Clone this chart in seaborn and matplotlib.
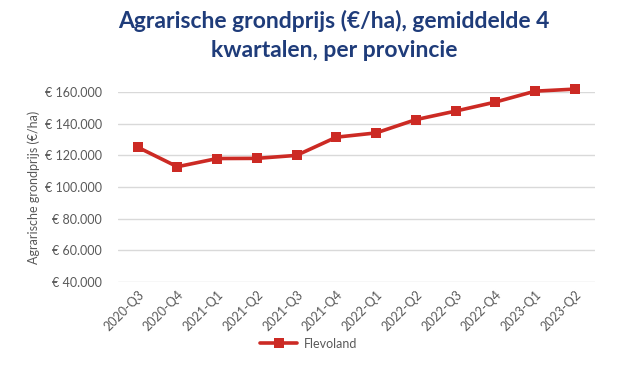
import matplotlib
matplotlib.use("Agg")
import matplotlib.pyplot as plt
import seaborn as sns
import pandas as pd
from matplotlib.ticker import FuncFormatter

quarters = ["2020-Q3", "2020-Q4", "2021-Q1", "2021-Q2", "2021-Q3", "2021-Q4",
            "2022-Q1", "2022-Q2", "2022-Q3", "2022-Q4", "2023-Q1", "2023-Q2"]
flevoland = [125200, 112800, 118000, 118100, 120000, 131500,
             134200, 142600, 148000, 153700, 160600, 161900]
series_name = "Flevoland"
title = "Agrarische grondprijs (€/ha), gemiddelde 4\nkwartalen, per provincie"
ylabel = "Agrarische grondprijs (€/ha)"

sns.set_theme(style="white")
plt.rcParams['font.family'] = ['Lato', 'DejaVu Sans']

df = pd.DataFrame({"kwartaal": quarters, "prijs": flevoland, "provincie": series_name})

fig = plt.figure(figsize=(6.26, 3.67), dpi=100)
ax = fig.add_axes([0.188, 0.232, 0.762, 0.517])

red = "#CC2A24"
sns.lineplot(data=df, x="kwartaal", y="prijs", hue="provincie", palette=[red],
             marker="s", markersize=6.5, markeredgewidth=0, linewidth=2.6,
             ax=ax, sort=False, clip_on=False)

ax.set_xlim(-0.5, len(quarters) - 0.5)
ax.set_ylim(40000, 160000)
ax.set_yticks(range(40000, 160001, 20000))
ax.yaxis.set_major_formatter(FuncFormatter(lambda v, p: "€ " + f"{int(v):,}".replace(",", ".")))
ax.grid(axis="y", color="#D9D9D9", linewidth=1)
ax.grid(axis="x", visible=False)
for s in ax.spines.values():
    s.set_visible(False)
ax.tick_params(axis="both", length=0, colors="#595959", labelsize=9)
ax.tick_params(axis="y", pad=11.5)
ax.tick_params(axis="x", pad=5)
plt.setp(ax.get_xticklabels(), rotation=45, ha="right", rotation_mode="anchor")
ax.set_xlabel("")
ax.set_ylabel(ylabel, color="#595959", fontsize=9, labelpad=3)

leg = ax.legend(loc="center", bbox_to_anchor=(0.40, -0.326), frameon=False,
                fontsize=9, handlelength=3.0, handletextpad=0.5, borderaxespad=0)
for t in leg.get_texts():
    t.set_color("#595959")

fig.text(0.534, 0.972, title, ha="center", va="top", fontsize=16.5, fontweight="bold",
         color="#1F3C7A", linespacing=1.45)

fig.savefig("out.png", dpi=100, facecolor="white")
